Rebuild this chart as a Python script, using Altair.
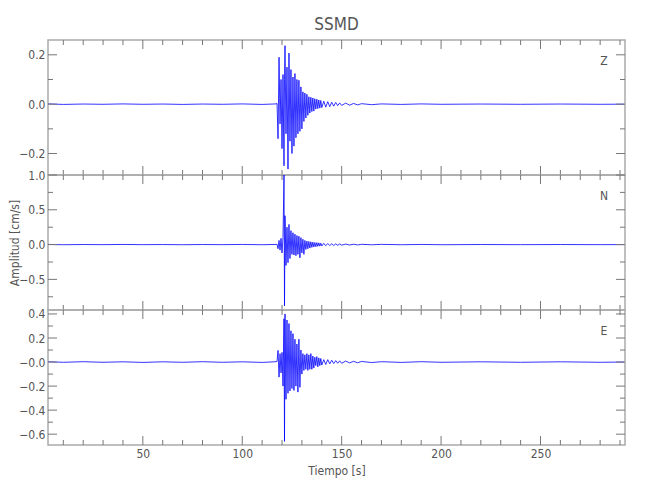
import altair as alt
import pandas as pd

# ---------------- data ----------------
time_s = [2.5, 10, 20, 30, 40, 50, 60, 70, 80, 90, 100, 110, 117,
          117.5, 118, 118.5, 119, 119.5, 120, 120.5, 121, 121.25, 121.5,
          122, 122.5, 123, 123.5, 124, 124.5, 125, 125.5, 126, 126.5,
          127, 127.5, 128, 128.5, 129, 129.5, 130, 130.5, 131, 131.5,
          132, 132.5, 133, 133.5, 134, 134.5, 135, 135.5, 136, 136.5,
          137, 137.5, 138, 138.5, 139, 139.5, 140,
          141, 142, 143, 144, 145, 146, 147, 148, 149, 150,
          152, 154, 156, 158, 160,
          165, 170, 180, 190, 200, 220, 240, 260, 280, 292]

z_vals = [0.001, -0.001, 0.0005, -0.0005, 0.001, -0.0005, 0.0005, -0.001, 0.0005, -0.0005, 0.001, -0.001, 0.001,
          0.003, -0.14, 0.19, -0.08, 0.10, -0.18, 0.12, -0.25, 0.10, 0.237,
          -0.12, 0.15, -0.263, 0.207, -0.15, 0.14, -0.20, 0.11, -0.17, 0.124,
          -0.136, 0.10, -0.12, 0.097, -0.11, 0.07, -0.10, 0.05, -0.07, 0.045,
          -0.056, 0.04, -0.045, 0.03, -0.036, 0.028, -0.03, 0.025, -0.028, 0.022,
          -0.02, 0.02, -0.018, 0.017, -0.016, 0.015, -0.014,
          0.012, -0.012, 0.01, -0.01, 0.008, -0.008, 0.007, -0.006, 0.005, -0.005,
          0.004, -0.004, 0.003, -0.003, 0.002,
          -0.002, 0.001, -0.001, 0.001, -0.0005, 0.0005, -0.0005, 0.0005, -0.0005, 0.0]

n_vals = [0.002, -0.002, 0.001, -0.001, 0.002, -0.001, 0.001, -0.002, 0.001, -0.001, 0.002, -0.002, 0.002,
          0.005, -0.06, 0.06, -0.08, 0.09, -0.12, 0.10, 1.0, -0.88, 0.415,
          -0.30, 0.25, -0.26, 0.29, -0.20, 0.20, -0.14, 0.17, -0.15, 0.15,
          -0.16, 0.13, -0.14, 0.12, -0.19, 0.10, -0.12, 0.077, -0.14, 0.06,
          -0.07, 0.05, -0.06, 0.045, -0.05, 0.04, -0.04, 0.035, -0.035, 0.03,
          -0.03, 0.028, -0.025, 0.025, -0.022, 0.02, -0.02,
          0.018, -0.016, 0.015, -0.014, 0.012, -0.012, 0.01, -0.01, 0.009, -0.008,
          0.007, -0.006, 0.005, -0.005, 0.004,
          -0.003, 0.003, -0.002, 0.002, -0.002, 0.001, -0.001, 0.001, -0.001, 0.0]

e_vals = [0.002, -0.002, 0.003, -0.002, 0.002, -0.003, 0.002, -0.002, 0.003, -0.002, 0.002, -0.003, 0.003,
          0.005, 0.097, -0.125, 0.07, -0.09, 0.08, -0.20, 0.36, -0.66, 0.40,
          -0.31, 0.35, -0.26, 0.32, -0.24, 0.26, -0.22, 0.236, -0.236, 0.19,
          -0.20, 0.15, -0.25, 0.19, -0.21, 0.10, -0.10, 0.07, -0.07, 0.06,
          -0.06, 0.07, -0.07, 0.06, -0.06, 0.07, -0.06, 0.05, -0.05, 0.04,
          -0.03, 0.045, -0.04, 0.035, -0.03, 0.03, -0.025,
          0.02, -0.02, 0.02, -0.015, 0.015, -0.012, 0.012, -0.01, 0.01, -0.01,
          0.008, -0.007, 0.006, -0.006, 0.005,
          -0.004, 0.003, -0.003, 0.003, -0.002, 0.002, -0.002, 0.002, -0.002, 0.0]

components = ["Z", "N", "E"]
y_domains = [[-0.287, 0.26], [-0.94, 1.0], [-0.69, 0.433]]
y_major = [[-0.2, 0.0, 0.2], [-0.5, 0.0, 0.5, 1.0], [-0.6, -0.4, -0.2, 0.0, 0.2, 0.4]]
y_minor = [[-0.1, 0.1], [-0.75, -0.25, 0.25, 0.75], [-0.5, -0.3, -0.1, 0.1, 0.3]]

x_domain = [2.3, 292.5]
x_major = [50, 100, 150, 200, 250]
x_minor = [10, 20, 30, 40, 60, 70, 80, 90, 110, 120, 130, 140, 160, 170, 180,
           190, 210, 220, 230, 240, 260, 270, 280, 290]

title_text = "SSMD"
y_title = "Amplitud [cm/s]"
x_title = "Tiempo [s]"

# ---------------- style ----------------
FONT = "Liberation Sans Narrow, DejaVu Sans Condensed, sans-serif"
TXT = "#555555"
TICK = "#777777"
W, H = 577, 135
MAJ, MIN = 9, 5


def panel(idx):
    vals = [z_vals, n_vals, e_vals][idx]
    df = pd.DataFrame({"t": time_s, "amp": vals})
    xs = alt.Scale(domain=x_domain, nice=False, zero=False)
    ys = alt.Scale(domain=y_domains[idx], nice=False, zero=False)

    if idx == 2:
        xaxis = alt.Axis(values=x_major, format="d", ticks=False, tickSize=0,
                         domain=False, grid=False, labelPadding=3,
                         title=x_title, titlePadding=6)
        ylabel_expr = "datum.value == 0 ? '\u22120.0' : format(datum.value, '.1f')"
    else:
        xaxis = None
        ylabel_expr = "format(datum.value, '.1f')"

    yaxis = alt.Axis(values=y_major[idx], ticks=False, tickSize=0, domain=False,
                     grid=False, labelPadding=3, labelExpr=ylabel_expr,
                     title=y_title if idx == 1 else "", titlePadding=-3)

    line = alt.Chart(df).mark_line(color="#0000ff", strokeWidth=0.8, clip=True).encode(
        x=alt.X("t:Q", scale=xs, axis=xaxis),
        y=alt.Y("amp:Q", scale=ys, axis=yaxis),
    )

    def xt(vals_, y0, y1):
        return alt.Chart(pd.DataFrame({"t": vals_})).mark_rule(color=TICK, strokeWidth=1).encode(
            x=alt.X("t:Q", scale=xs, axis=xaxis), y=alt.value(y0), y2=alt.value(y1))

    def yt(vals_, x0, x1):
        return alt.Chart(pd.DataFrame({"amp": vals_})).mark_rule(color=TICK, strokeWidth=1).encode(
            y=alt.Y("amp:Q", scale=ys, axis=yaxis), x=alt.value(x0), x2=alt.value(x1))

    ticks = [
        xt(x_major, 0, MAJ), xt(x_minor, 0, MIN),
        xt(x_major, H, H - MAJ), xt(x_minor, H, H - MIN),
        yt(y_major[idx], 0, MAJ), yt(y_minor[idx], 0, MIN),
        yt(y_major[idx], W, W - MAJ), yt(y_minor[idx], W, W - MIN),
    ]

    lab = alt.Chart(pd.DataFrame({"c": [components[idx]]})).mark_text(
        font=FONT, fontSize=12, color=TXT, align="center", baseline="middle"
    ).encode(text="c:N", x=alt.value(W - 21), y=alt.value(21))

    layer = alt.layer(line, *ticks, lab).properties(width=W, height=H)
    if idx == 0:
        layer = layer.properties(title=alt.TitleParams(
            title_text, anchor="middle", fontSize=17, font=FONT, color=TXT,
            fontWeight="normal", offset=6))
    return layer


chart = alt.vconcat(panel(0), panel(1), panel(2), spacing=0, bounds="flush").properties(
    padding={"left": 0, "top": 6, "right": 5, "bottom": 5}
).configure_view(
    stroke="#aaaaaa", strokeWidth=1.5
).configure_axis(
    labelFont=FONT, labelFontSize=12, labelColor=TXT,
    titleFont=FONT, titleFontSize=12, titleColor=TXT, titleFontWeight="normal"
)

chart.save("out.html", embed_options={"renderer": "svg", "actions": False})
